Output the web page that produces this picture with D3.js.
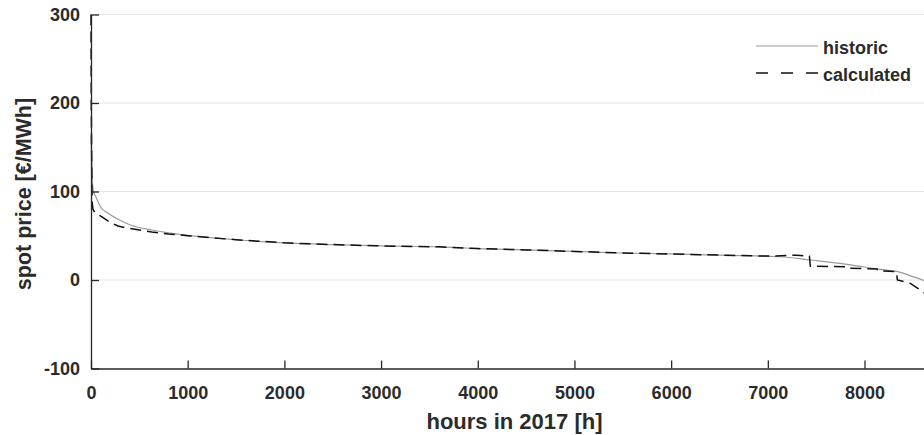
<!DOCTYPE html>
<html>
<head>
<meta charset="utf-8">
<script src="https://cdn.jsdelivr.net/npm/d3@7"></script>
<style>
  body { margin: 0; background: #fff; }
  svg text { font-family: "Liberation Sans", Arial, sans-serif; font-weight: bold; fill: #2b2b2b; }
</style>
</head>
<body>
<div id="chart"></div>
<script>
// price duration curve (hours sorted, price in EUR/MWh)
var historicHours  = [0, 5, 15, 25, 50, 110, 170, 280, 400, 628, 800, 1000, 1500, 2000, 2500, 3000, 3600, 4000, 4500, 5000, 5270, 5500, 6200, 6500, 7130, 7440, 7820, 8160, 8370, 8500, 8600, 8700, 8760];
var historicPrice  = [163, 147, 110, 100, 94, 81, 76, 68.6, 62.5, 56.5, 53.3, 50.5, 45.5, 42, 40, 38.5, 37.5, 35.5, 34, 32.3, 31.3, 30.5, 29, 28, 26.3, 22.6, 17.7, 12, 8.7, 3.8, 0, -6, -60];

var calcHours = [0, 3, 8, 12, 20, 40, 110, 200, 280, 350, 455, 628, 800, 1000, 1500, 2000, 2500, 3000, 3600, 4000, 4500, 5000, 5500, 6000, 6500, 7000, 7300, 7430, 7440, 7800, 7810, 8130, 8140, 8330, 8340, 8470, 8600, 8760];
var calcPrice = [300, 200, 120, 88, 80, 76, 71.5, 65, 61, 59.3, 57.3, 54.3, 52, 50, 45.5, 42, 40, 38.5, 37.5, 35.5, 34, 32.3, 30.5, 29.3, 28.2, 27, 28, 27, 15.5, 15, 13.5, 12.5, 10.5, 9.5, 0, -3.5, -13, -28];

var yTicks = [-100, 0, 100, 200, 300];
var xTicks = [0, 1000, 2000, 3000, 4000, 5000, 6000, 7000, 8000];
var legendLabels = ["historic", "calculated"];

var W = 924, H = 435;
var margin = { left: 91, top: 14.5, right: -14, bottom: 66.5 };

var svg = d3.select("#chart").append("svg")
    .attr("width", W)
    .attr("height", H);

var x = d3.scaleLinear().domain([0, 8760]).range([margin.left, W - margin.right]);
var y = d3.scaleLinear().domain([-100, 300]).range([H - margin.bottom, margin.top]);

// horizontal grid
svg.append("g")
  .selectAll("line")
  .data(yTicks.filter(function(d) { return d > -100; }))
  .enter().append("line")
    .attr("x1", margin.left).attr("x2", W)
    .attr("y1", function(d) { return y(d); })
    .attr("y2", function(d) { return y(d); })
    .attr("stroke", "#e3e3e3")
    .attr("stroke-width", 1);

// series
var historic = historicHours.map(function(h, i) { return [h, historicPrice[i]]; });
var calculated = calcHours.map(function(h, i) { return [h, calcPrice[i]]; });

var line = d3.line()
    .x(function(d) { return x(d[0]); })
    .y(function(d) { return y(d[1]); });

svg.append("path")
    .datum(historic)
    .attr("d", line.curve(d3.curveMonotoneX))
    .attr("fill", "none")
    .attr("stroke", "#9a9a9a")
    .attr("stroke-width", 1.2);

svg.append("path")
    .datum(calculated)
    .attr("d", line.curve(d3.curveLinear))
    .attr("fill", "none")
    .attr("stroke", "#111")
    .attr("stroke-width", 1.5)
    .attr("stroke-dasharray", "11,6");

// axes
var fmt = function(d) { return String(d); };
var yAxis = d3.axisLeft(y).tickValues(yTicks).tickFormat(fmt).tickSizeInner(-8).tickSizeOuter(0).tickPadding(11);
var xAxis = d3.axisBottom(x).tickValues(xTicks).tickFormat(fmt).tickSizeInner(-8).tickSizeOuter(0).tickPadding(18);

var gy = svg.append("g").attr("transform", "translate(" + margin.left + ",0)").call(yAxis);
var gx = svg.append("g").attr("transform", "translate(0," + (H - margin.bottom) + ")").call(xAxis);

[gx, gy].forEach(function(g) {
  g.selectAll("path, line").attr("stroke", "#262626").attr("stroke-width", 1.3);
  g.selectAll("text").style("font-size", "18px").attr("fill", "#2b2b2b");
});

// axis labels
svg.append("text")
    .attr("x", (x(0) + x(8760)) / 2)
    .attr("y", 429)
    .attr("text-anchor", "middle")
    .style("font-size", "22px")
    .text("hours in 2017 [h]");

svg.append("text")
    .attr("transform", "translate(31," + 194 + ") rotate(-90)")
    .attr("text-anchor", "middle")
    .style("font-size", "21.5px")
    .text("spot price [€/MWh]");

// legend
var legend = svg.append("g").attr("transform", "translate(756,46)");
legendLabels.forEach(function(label, i) {
  var row = legend.append("g").attr("transform", "translate(0," + (i * 27) + ")");
  row.append("line")
      .attr("x1", 0).attr("x2", 62)
      .attr("stroke", i === 0 ? "#9a9a9a" : "#111")
      .attr("stroke-width", i === 0 ? 1.2 : 1.5)
      .attr("stroke-dasharray", i === 0 ? null : "12,13");
  row.append("text")
      .attr("x", 67)
      .attr("y", 8)
      .style("font-size", "18px")
      .text(label);
});
</script>
</body>
</html>
